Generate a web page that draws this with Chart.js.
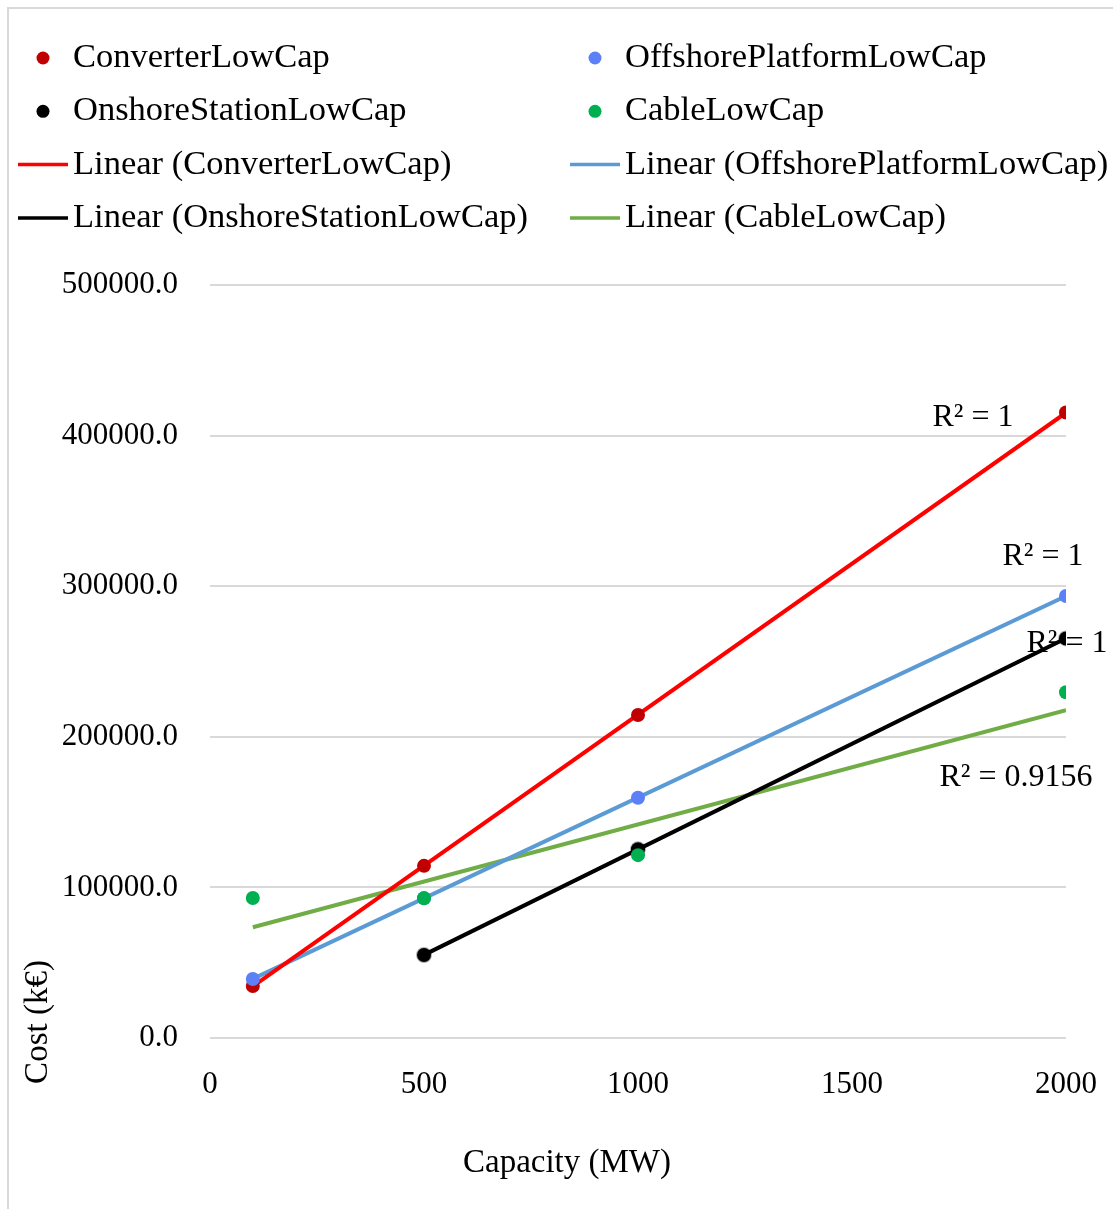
<!DOCTYPE html>
<html>
<head>
<meta charset="utf-8">
<script src="https://cdn.jsdelivr.net/npm/chart.js@4.4.1/dist/chart.umd.min.js"></script>
<style>
  body { margin: 0; background: #fff; }
  canvas { display: block; }
</style>
</head>
<body>
<canvas id="costChart" width="1113" height="1209"></canvas>
<script>
// values
const capacity = [100, 500, 1000, 2000];
const converterCost = [34500, 114300, 214500, 415300];
const offshoreCost = [39200, 92900, 159500, 293500];
const onshoreCost = [null, 55100, 125400, 265300];
const cableCost = [93000, 92800, 121400, 229600];
const r2Labels = ["R² = 1", "R² = 1", "R² = 1", "R² = 0.9156"];
const yTicks = [0, 100000, 200000, 300000, 400000, 500000];
const xTicks = [0, 500, 1000, 1500, 2000];

const FONT = "'Liberation Serif', serif";

function toPoints(ys) {
  return capacity.map((x, i) => ({ x: x, y: ys[i] })).filter(p => p.y !== null);
}

// least squares trendline, drawn between first and last x of the series
function trend(ys) {
  const pts = toPoints(ys);
  const n = pts.length;
  const mx = pts.reduce((s, p) => s + p.x, 0) / n;
  const my = pts.reduce((s, p) => s + p.y, 0) / n;
  let sxy = 0, sxx = 0;
  pts.forEach(p => { sxy += (p.x - mx) * (p.y - my); sxx += (p.x - mx) ** 2; });
  const b = sxy / sxx, a = my - b * mx;
  const x0 = pts[0].x, x1 = pts[n - 1].x;
  return [{ x: x0, y: a + b * x0 }, { x: x1, y: a + b * x1 }];
}

const series = [
  { name: "ConverterLowCap", ys: converterCost, point: "#c00000", line: "#ff0000" },
  { name: "OffshorePlatformLowCap", ys: offshoreCost, point: "#5b80f8", line: "#5b9bd5" },
  { name: "OnshoreStationLowCap", ys: onshoreCost, point: "#000000", line: "#000000" },
  { name: "CableLowCap", ys: cableCost, point: "#00b050", line: "#70ad47" },
];

const datasets = [];
series.forEach((s, i) => {
  datasets.push({
    label: s.name,
    data: toPoints(s.ys),
    backgroundColor: s.point,
    borderColor: i === 2 ? "rgba(0,0,0,0.3)" : s.point,
    borderWidth: i === 2 ? 2 : 0,
    pointRadius: 7,
    showLine: false,
    order: 4 - i,
  });
});
series.forEach((s) => {
  datasets.push({
    label: "Linear (" + s.name + ")",
    data: trend(s.ys),
    borderColor: s.line,
    backgroundColor: s.line,
    borderWidth: 4,
    pointRadius: 0,
    showLine: true,
    order: 10,
  });
});

// legend in two columns, rows as in the picture
const legendRows = [[0, 1], [2, 3], [4, 5], [6, 7]];

const extras = {
  id: "extras",
  beforeDraw(chart) {
    const c = chart.ctx;
    c.save();
    c.fillStyle = "#fff";
    c.fillRect(0, 0, chart.width, chart.height);
    c.strokeStyle = "#d9d9d9";
    c.lineWidth = 2;
    c.beginPath();
    c.moveTo(8, chart.height);
    c.lineTo(8, 8);
    c.lineTo(chart.width, 8);
    c.stroke();
    c.restore();
  },
  afterDraw(chart) {
    const c = chart.ctx;
    const xs = chart.scales.x, ys = chart.scales.y;
    c.save();
    c.fillStyle = "#000";
    c.textBaseline = "middle";

    // legend
    c.font = "34.5px " + FONT;
    legendRows.forEach((row, r) => {
      const cy = 58 + r * 53.3;
      row.forEach((di, col) => {
        const ds = chart.data.datasets[di];
        const left = col === 0 ? 18 : 570;
        if (ds.showLine) {
          c.strokeStyle = ds.borderColor;
          c.lineWidth = 3.5;
          c.beginPath();
          c.moveTo(left, cy);
          c.lineTo(left + 50, cy);
          c.stroke();
        } else {
          c.fillStyle = ds.backgroundColor;
          c.beginPath();
          c.arc(left + 25, cy, 6.5, 0, Math.PI * 2);
          c.fill();
        }
        c.fillStyle = "#000";
        c.textAlign = "left";
        c.fillText(ds.label, left + 55, cy);
      });
    });

    // R² labels near the right end of each trendline
    const offsets = [[-93, 5], [-23, -39], [1, 5], [-50, 67]];
    c.font = "32px " + FONT;
    c.textAlign = "center";
    series.forEach((s, i) => {
      const t = chart.data.datasets[4 + i].data;
      const end = t[t.length - 1];
      const px = xs.getPixelForValue(end.x) + offsets[i][0];
      const py = ys.getPixelForValue(end.y) + offsets[i][1];
      c.fillText(r2Labels[i], px, py);
    });

    // axis titles
    c.font = "33px " + FONT;
    c.fillText("Capacity (MW)", 567, 1163);
    c.translate(38, 1022);
    c.rotate(-Math.PI / 2);
    c.fillText("Cost (k€)", 0, 0);
    c.restore();
  },
};

new Chart(document.getElementById("costChart"), {
  type: "scatter",
  data: { datasets: datasets },
  options: {
    responsive: false,
    animation: false,
    layout: { padding: { top: 285, right: 47, left: 0, bottom: 0 } },
    scales: {
      x: {
        type: "linear",
        min: 0,
        max: 2000,
        afterBuildTicks: (scale) => { scale.ticks = xTicks.map(v => ({ value: v })); },
        afterFit: (scale) => {
          scale.height = 171;
          scale.paddingLeft = 0;
          scale.paddingRight = 0;
        },
        ticks: {
          color: "#000",
          font: { family: FONT, size: 31 },
          padding: 28,
          callback: (v) => String(v),
        },
        grid: { display: false, drawTicks: false },
        border: { display: false },
      },
      y: {
        min: 0,
        max: 500000,
        afterBuildTicks: (scale) => { scale.ticks = yTicks.map(v => ({ value: v })); },
        afterFit: (scale) => {
          scale.width = 210;
          scale.paddingTop = 0;
          scale.paddingBottom = 0;
        },
        ticks: {
          color: "#000",
          font: { family: FONT, size: 31 },
          padding: 32,
          callback: (v) => v.toFixed(1),
        },
        grid: { color: "#d9d9d9", lineWidth: 2, drawTicks: false },
        border: { display: false },
      },
    },
    plugins: {
      legend: { display: false },
      tooltip: { enabled: false },
    },
  },
  plugins: [extras],
});
</script>
</body>
</html>
